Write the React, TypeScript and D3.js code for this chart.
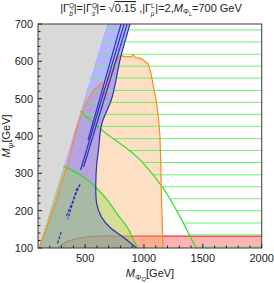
import React from 'react';
import * as d3 from 'd3';

type P = [number, number];

const W = 274;
const H = 283;

// axis ticks
const xTicks = [500, 1000, 1500, 2000];
const yTicks = [100, 200, 300, 400, 500, 600, 700];

// region boundaries (M_PhiQ, M_psi)
const grayEdge: P[] = [[103, 100], [684, 700]];

const orangeEdge: P[] = [
  [109, 100], [170, 150], [245, 215], [310, 282], [353, 325], [395, 380], [438, 432],
  [490, 475], [528, 499], [579, 526], [615, 533], [642, 544], [655, 536], [664, 512],
  [676, 510], [688, 532], [698, 553], [740, 584], [769, 611], [811, 615], [839, 612],
  [870, 613], [895, 612], [907, 617], [933, 609], [958, 609], [992, 604], [1035, 593],
  [1060, 568], [1080, 532], [1108, 488], [1125, 443], [1136, 398], [1142, 336],
  [1149, 229], [1162, 100],
];

const blueEdge: P[] = [
  [882, 700], [802, 611], [726, 500], [641, 432], [613, 360], [599, 325], [591, 271],
  [599, 218], [641, 182], [712, 155], [825, 129], [900, 110], [935, 100],
];

const blueInner: P[][] = [
  [[857, 700], [487, 317]],
  [[831, 700], [462, 309]],
  [[805, 700], [525, 389]],
];

const blueDashed: P[][] = [
  [[457, 271], [336, 182]],
  [[432, 261], [353, 177]],
  [[296, 143], [262, 108]],
];

const green1Edge: P[] = [
  [457, 467], [670, 409], [882, 360], [967, 336], [1162, 261], [1306, 184], [1408, 121], [1447, 100],
];

const green2Edge: P[] = [
  [316, 320], [457, 296], [528, 280], [599, 260], [690, 228], [769, 193], [867, 151], [939, 103], [945, 100],
];

const redEdge: P[] = [
  [271, 100], [305, 109], [347, 117], [415, 124], [500, 129], [627, 132], [797, 132], [2000, 132],
];

const hatchLevels = [684, 652, 619, 587, 555, 522, 490, 458, 426, 393, 361, 329, 296, 264, 232, 200, 167, 135, 103];

export default function App() {
  const x = d3.scaleLinear().domain([100, 2000]).range([38, 261.7]);
  const y = d3.scaleLinear().domain([100, 700]).range([248, 24]);

  const straight = d3.line<P>().x(d => x(d[0])).y(d => y(d[1]));
  const smooth = d3.line<P>().x(d => x(d[0])).y(d => y(d[1])).curve(d3.curveCatmullRom.alpha(0.5));
  const pt = (a: number, b: number) => `L${x(a)},${y(b)}`;

  const grayPath = straight([[100, 100], ...grayEdge, [100, 700]]) + 'Z';
  const orangePath = straight(orangeEdge) + 'Z';
  const bluePath = straight(grayEdge) + smooth(blueEdge)!.replace(/^M/, 'L') + 'Z';
  const green2Path = straight([grayEdge[0], [316, 320]]) + smooth(green2Edge)!.replace(/^M/, 'L') + 'Z';
  const redPath = smooth(redEdge) + pt(2000, 100) + 'Z';
  const hatchClip = smooth(green1Edge) + pt(2000, 100) + pt(2000, 700) + pt(684, 700) + 'Z';

  const font = 'Liberation Sans, Arial, sans-serif';
  const minorX = d3.range(200, 2000, 100).filter(v => v % 500 !== 0);
  const minorY = d3.range(120, 700, 20).filter(v => v % 100 !== 0);

  return (
    <svg width={W} height={H} style={{ position: 'absolute', left: 0, top: 0, background: '#fff' }} fontFamily={font}>
      <defs>
        <clipPath id="plot"><rect x={x(100)} y={y(700)} width={x(2000) - x(100)} height={y(100) - y(700)} /></clipPath>
        <clipPath id="hatch"><path d={hatchClip} /></clipPath>
      </defs>

      <g clipPath="url(#plot)">
        <path d={redPath} fill="#ff3b3b" fillOpacity={0.38} />
        <path d={smooth(redEdge)!} fill="none" stroke="#ff2a2a" strokeWidth={1.3} />
        <path d={orangePath} fill="#f9a65a" fillOpacity={0.36} />
        <path d={bluePath} fill="#5a5aff" fillOpacity={0.45} />
        <path d={green2Path} fill="#96dc50" fillOpacity={0.4} />

        <g clipPath="url(#hatch)">
          {hatchLevels.map(h => (
            <line key={h} x1={x(100)} x2={x(2000)} y1={y(h)} y2={y(h)} stroke="#6cf06c" strokeWidth={1} />
          ))}
        </g>

        <path d={smooth(green1Edge)!} fill="none" stroke="#2ede2e" strokeWidth={1.2} />
        <path d={smooth(green2Edge)!} fill="none" stroke="#2ede2e" strokeWidth={1.2} />
        <path d={straight(orangeEdge)!} fill="none" stroke="#ff8a1c" strokeWidth={1.2} />
        <path d={smooth(blueEdge)!} fill="none" stroke="#2d2dc8" strokeWidth={1.2} />
        {blueInner.map((l, i) => (
          <path key={i} d={straight(l)!} fill="none" stroke="#2d2dc8" strokeWidth={1.2} />
        ))}
        {blueDashed.map((l, i) => (
          <path key={i} d={straight(l)!} fill="none" stroke="#2d2dc8" strokeWidth={1.3} strokeDasharray="3,1.5" />
        ))}

        <path d={grayPath} fill="#d9d9d9" />
      </g>

      {/* frame */}
      <rect x={x(100)} y={y(700)} width={x(2000) - x(100)} height={y(100) - y(700)} fill="none" stroke="#3a3a3a" strokeWidth={1} />

      {/* ticks */}
      {xTicks.map(t => (
        <line key={'xt' + t} x1={x(t)} x2={x(t)} y1={y(100)} y2={y(100) - 4} stroke="#222" />
      ))}
      {minorX.map(t => (
        <line key={'xm' + t} x1={x(t)} x2={x(t)} y1={y(100)} y2={y(100) - 2.5} stroke="#222" />
      ))}
      {yTicks.map(t => (
        <line key={'yt' + t} x1={x(100)} x2={x(100) + 4} y1={y(t)} y2={y(t)} stroke="#222" />
      ))}
      {minorY.map(t => (
        <line key={'ym' + t} x1={x(100)} x2={x(100) + 2.5} y1={y(t)} y2={y(t)} stroke="#222" />
      ))}

      {/* tick labels */}
      {xTicks.map(t => (
        <text key={'xl' + t} x={x(t)} y={262} fontSize={11} textAnchor="middle" fill="#222">{t}</text>
      ))}
      {yTicks.map(t => (
        <text key={'yl' + t} x={33} y={y(t) + 4} fontSize={11} textAnchor="end" fill="#222">{t}</text>
      ))}

      {/* axis labels */}
      <text x={150} y={277} fontSize={11} textAnchor="middle" fill="#222">
        <tspan fontStyle="italic">M</tspan>
        <tspan fontSize={8} dy={2.5}>Φ</tspan>
        <tspan fontSize={6} dy={1.5} fontStyle="italic">Q</tspan>
        <tspan dy={-4}>[GeV]</tspan>
      </text>
      <text transform={`translate(10,${(y(100) + y(700)) / 2}) rotate(-90)`} fontSize={11} textAnchor="middle" fill="#222">
        <tspan fontStyle="italic">M</tspan>
        <tspan fontSize={8} dy={2.5} fontStyle="italic">ψ</tspan>
        <tspan dy={-2.5}>[GeV]</tspan>
      </text>

      {/* title */}
      <text x={151} y={12} fontSize={11} textAnchor="middle" fill="#222">
        |Γ<tspan fontSize={6.5} dy={-4.5}>Q</tspan>
        <tspan fontSize={6.5} dx={-5} dy={8} fontStyle="italic">b</tspan>
        <tspan dy={-3.5} dx={1}>|=|Γ</tspan>
        <tspan fontSize={6.5} dy={-4.5}>Q</tspan>
        <tspan fontSize={6.5} dx={-5} dy={8} fontStyle="italic">s</tspan>
        <tspan dy={-3.5} dx={1}>|= √</tspan>
        <tspan style={{ textDecoration: 'overline' }}>0.15</tspan>
        <tspan> ,|Γ</tspan>
        <tspan fontSize={6.5} dy={-4.5}>L</tspan>
        <tspan fontSize={6.5} dx={-4} dy={8} fontStyle="italic">μ</tspan>
        <tspan dy={-3.5} dx={1}>|=2,</tspan>
        <tspan fontStyle="italic">M</tspan>
        <tspan fontSize={7.5} dy={2}>Φ</tspan>
        <tspan fontSize={5.5} dy={1.5} fontStyle="italic">L</tspan>
        <tspan dy={-3.5}>=700 GeV</tspan>
      </text>
    </svg>
  );
}
